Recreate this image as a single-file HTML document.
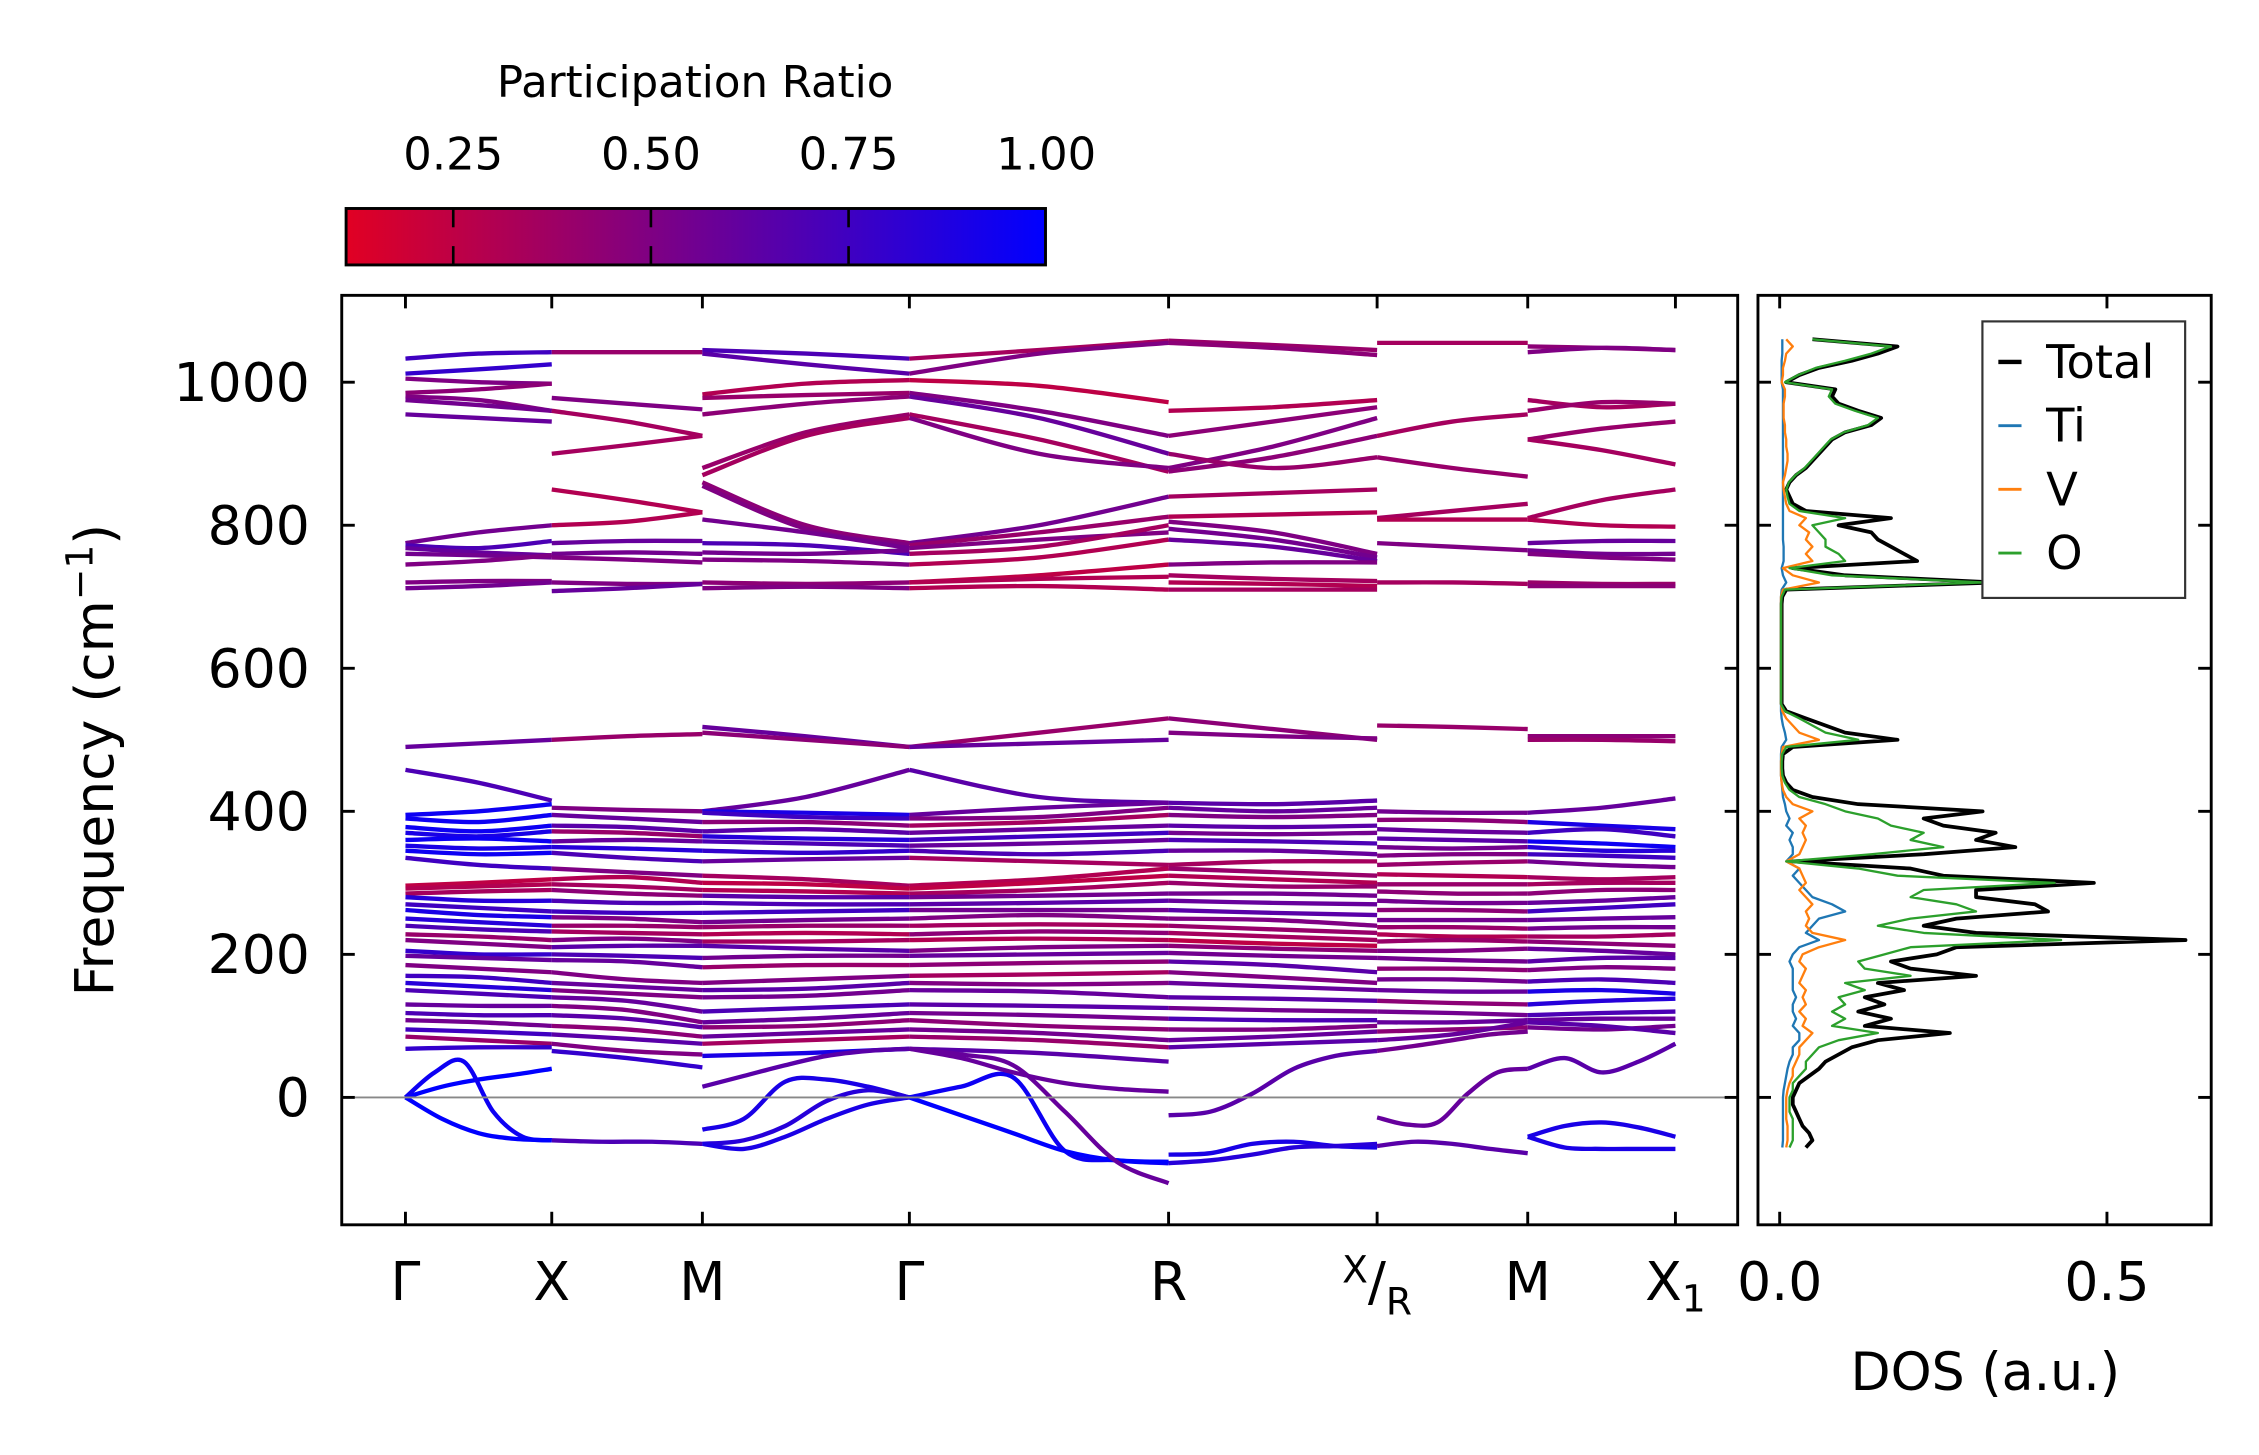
<!DOCTYPE html>
<html><head><meta charset="utf-8"><style>
html,body{margin:0;padding:0;background:#fff;}
svg{display:block;font-family:"DejaVu Sans","Liberation Sans",sans-serif;}
</style></head><body>
<svg id="fig" width="2259" height="1455" viewBox="0 0 1560 1005" preserveAspectRatio="none" xmlns="http://www.w3.org/2000/svg">
<defs>
<linearGradient id="cmap" x1="0" x2="1" y1="0" y2="0">
<stop offset="0" stop-color="rgb(225,0,35)"/><stop offset="1" stop-color="rgb(0,0,255)"/>
</linearGradient>
<clipPath id="mainclip"><rect x="236" y="204" width="964" height="642"/></clipPath>
<clipPath id="dosclip"><rect x="1214" y="204" width="313" height="642"/></clipPath>
</defs>
<g>
<text x="480" y="67" font-size="30" text-anchor="middle">Participation Ratio</text>
<rect x="239" y="144" width="483" height="39" fill="url(#cmap)" stroke="#000" stroke-width="2"/>
<g id="cbticks"></g>
</g>
<g id="main">
<g id="bands" clip-path="url(#mainclip)"></g>
<line x1="236" x2="1200" y1="758" y2="758" stroke="#888" stroke-width="1.3"/>
<rect x="236" y="204" width="964" height="642" fill="none" stroke="#000" stroke-width="2"/>
<g id="mainticks"></g>
<text transform="translate(78,525) rotate(-90)" font-size="37" text-anchor="middle">Frequency (cm<tspan dy="-14" font-size="26">−1</tspan><tspan dy="14">)</tspan></text>
</g>
<g id="dos">
<g id="doslines" clip-path="url(#dosclip)"></g>
<rect x="1214" y="204" width="313" height="642" fill="none" stroke="#000" stroke-width="2"/>
<g id="dosticks"></g>
<text x="1371" y="960" font-size="36" text-anchor="middle">DOS (a.u.)</text>
<g>
<rect x="1369" y="222" width="140" height="191" fill="#fff" stroke="#333" stroke-width="1.5"/>
<g id="legend"></g>
</g>
</g>
</svg>
<script>
// ---------- data ----------
const kLabels = ["Γ","X","M","Γ","R","X/R","M","X1"];
const kDist = [0, 0.1152, 0.2338, 0.3968, 0.6009, 0.7651, 0.8837, 1.0];
const freqTicks = [0, 200, 400, 600, 800, 1000];
const cbTicks = [0.25, 0.50, 0.75, 1.00];
const dosTicks = [0.0, 0.5];

const bandsGX = [
[1033,1040,1042,0.75],[1012,1018,1025,0.8],[1005,1000,998,0.5],[985,990,998,0.45],[980,975,960,0.5],[975,968,960,0.55],[955,950,945,0.6],
[775,790,800,0.55],[772,768,778,0.7],[768,762,758,0.6],[760,758,755,0.55],[745,750,758,0.5],[720,722,722,0.5],[712,715,720,0.55],
[490,495,500,0.6],[458,440,415,0.7],
[395,400,410,0.95],[390,385,395,0.95],[378,372,380,0.95],[370,365,372,0.9],[360,362,358,0.95],[352,348,350,0.9],[345,340,342,0.95],[335,325,320,0.75],[296,300,305,0.25],[292,295,298,0.3],[285,288,290,0.35],[280,275,275,0.85],[270,265,260,0.75],[262,255,252,0.9],[250,245,240,0.85],[240,235,232,0.7],[228,225,220,0.4],[220,215,210,0.5],[205,200,200,0.8],[198,195,192,0.6],[185,180,175,0.5],[170,168,160,0.75],[160,155,150,0.85],[150,145,140,0.7],[130,128,128,0.6],[118,115,115,0.7],[108,105,100,0.55],[95,92,88,0.75],[85,80,75,0.4],[68,70,70,0.8]
];
const lowGX = [[0,15,25,32,40,1.0],[0,35,50,-20,-55,-60,0.95],[0,-30,-50,-58,-60,1.0]];
const bandsXM = [
[1042,1042,1042,0.4],[978,970,962,0.5],[960,945,925,0.35],[900,912,925,0.35],[850,835,818,0.3],[800,805,818,0.3],[775,778,778,0.6],[760,762,760,0.55],[755,752,748,0.5],[720,718,718,0.5],[708,712,718,0.6],
[500,505,508,0.4],
[405,402,400,0.5],[395,390,385,0.6],[380,378,372,0.65],[372,370,365,0.4],[358,360,358,0.6],[350,348,345,0.85],[342,335,330,0.7],[320,315,310,0.5],[305,308,300,0.3],[298,295,290,0.35],[290,285,282,0.45],[275,272,272,0.7],[260,258,258,0.75],[252,250,245,0.5],[240,240,238,0.4],[232,230,228,0.35],[220,222,218,0.5],[210,212,212,0.65],[200,198,195,0.7],[192,190,182,0.6],[175,165,160,0.5],[160,155,150,0.6],[150,145,140,0.5],[140,135,120,0.6],[128,122,105,0.5],[115,110,98,0.65],[100,95,85,0.45],[88,82,75,0.65],[75,65,60,0.5],[65,55,42,0.8]
];
const lowXM = [[-60,-62,-62,-65,0.7]];
const bandsMG = [
[1045,1040,1033,0.7],[1040,1025,1012,0.65],[983,998,1003,0.3],[978,982,985,0.4],[955,970,980,0.45],[880,930,955,0.4],[870,925,950,0.35],[860,800,775,0.45],[855,795,772,0.5],[808,790,768,0.55],[775,772,760,0.7],[762,760,765,0.55],[752,750,745,0.5],[720,718,720,0.45],[712,714,712,0.5],
[518,505,490,0.6],[510,500,490,0.45],[400,420,458,0.6],
[400,398,395,0.9],[398,392,390,0.75],[385,385,380,0.45],[372,375,370,0.65],[365,362,360,0.85],[358,355,352,0.7],[345,342,345,0.8],[330,333,335,0.6],[310,305,296,0.35],[300,298,292,0.25],[290,288,285,0.3],[282,280,280,0.65],[272,270,270,0.7],[258,260,262,0.75],[245,248,250,0.55],[238,240,240,0.4],[228,230,228,0.3],[218,218,220,0.35],[212,208,205,0.65],[195,198,198,0.55],[182,185,185,0.4],[160,165,170,0.5],[150,152,160,0.65],[140,142,150,0.55],[120,125,130,0.7],[105,110,118,0.6],[98,100,108,0.45],[85,90,95,0.6],[75,80,85,0.35],[58,62,68,0.9]
];
const lowMG = [[-45,-30,22,25,15,0,0.9],[-65,-60,-40,-5,10,0,0.85],[-65,-72,-55,-30,-10,0,0.9],[15,30,45,58,65,68,0.65]];
const bandsGR = [
[1033,1045,1058,0.35],[1012,1040,1055,0.5],[1003,995,972,0.25],[985,960,925,0.5],[980,950,900,0.6],[955,920,875,0.35],[950,900,880,0.5],[775,800,840,0.55],[772,790,812,0.4],[768,780,790,0.5],[760,770,800,0.35],[745,755,780,0.3],[720,730,745,0.25],[712,715,710,0.3],[720,725,728,0.3],
[490,510,530,0.4],[490,495,500,0.6],[458,420,412,0.65],
[395,405,412,0.6],[390,392,405,0.5],[380,385,395,0.35],[370,375,380,0.6],[360,365,370,0.75],[352,355,360,0.6],[345,340,345,0.7],[335,330,325,0.35],[296,305,320,0.3],[292,300,310,0.25],[285,290,300,0.35],[280,282,285,0.55],[270,272,275,0.65],[262,262,262,0.55],[250,255,250,0.5],[240,242,240,0.35],[228,232,230,0.45],[220,222,220,0.3],[205,210,212,0.5],[198,200,202,0.6],[185,188,190,0.45],[170,172,175,0.35],[160,158,160,0.5],[150,148,140,0.6],[130,128,125,0.65],[118,115,110,0.55],[108,100,95,0.45],[95,90,80,0.55],[85,80,70,0.4],[68,62,50,0.65]
];
const lowGR = [[0,15,28,-75,-88,-92,0.95],[0,-25,-50,-75,-88,-90,1.0],[68,60,45,-20,-90,-120,0.6],[68,55,35,20,12,8,0.6]];
const bandsRX = [
[1058,1052,1045,0.4],[1055,1048,1038,0.45],[960,965,975,0.3],[925,945,965,0.45],[880,910,950,0.5],[875,895,925,0.45],[900,880,895,0.4],
[840,845,850,0.35],[812,815,818,0.3],[805,790,760,0.5],[795,780,755,0.55],[780,770,750,0.6],[745,748,748,0.5],[730,725,722,0.35],[720,718,715,0.3],[710,710,710,0.35],
[530,515,500,0.45],[510,505,502,0.5],
[412,410,415,0.65],[405,400,405,0.6],[395,392,395,0.5],[380,378,380,0.65],[370,368,370,0.55],[360,358,355,0.7],[345,345,340,0.6],[325,330,330,0.35],[320,315,310,0.4],[310,305,300,0.3],[300,295,295,0.4],[285,285,282,0.55],[275,272,270,0.6],[262,258,255,0.65],[250,248,240,0.5],[240,235,230,0.4],[230,225,220,0.35],[220,215,212,0.25],[212,208,205,0.45],[202,198,195,0.55],[190,185,175,0.65],[175,168,160,0.5],[160,155,150,0.6],[140,138,135,0.65],[125,122,120,0.55],[110,108,108,0.7],[95,95,100,0.5],[80,85,92,0.6],[70,75,80,0.65]
];
const lowRX = [[-25,-20,5,40,58,65,0.65],[-80,-78,-65,-62,-68,-70,0.9],[-92,-88,-80,-70,-68,-65,0.85]];
const bandsRM = [
[1055,1055,1055,0.35],[925,945,955,0.35],[895,880,868,0.4],[810,820,830,0.35],[808,808,808,0.3],[775,770,765,0.5],[720,720,718,0.35],
[520,518,515,0.4],
[400,398,398,0.55],[388,388,385,0.45],[375,372,370,0.6],[362,360,358,0.65],[350,348,350,0.55],[338,340,340,0.5],[325,328,330,0.4],[312,310,308,0.3],[298,298,298,0.4],[288,285,285,0.45],[275,272,272,0.55],[262,262,260,0.45],[248,248,248,0.55],[238,238,236,0.4],[228,225,225,0.3],[218,220,218,0.4],[205,205,208,0.5],[195,192,190,0.55],[180,180,178,0.45],[165,165,162,0.55],[150,148,148,0.6],[135,132,130,0.45],[120,118,115,0.55],[105,105,108,0.6],[92,95,98,0.45],[80,88,105,0.6]
];
const lowRM = [[-28,-38,-35,5,35,40,0.6],[-68,-62,-65,-72,-78,0.65],[65,72,80,88,92,0.55]];
const bandsMX1 = [
[1050,1048,1045,0.45],[1042,1048,1045,0.5],[975,965,970,0.35],[960,972,970,0.4],[920,935,945,0.4],[920,905,885,0.35],[810,835,850,0.35],[808,800,798,0.3],[775,778,778,0.6],[765,760,760,0.55],[760,755,752,0.5],[720,718,718,0.4],[715,715,715,0.45],
[505,505,505,0.45],[500,500,498,0.4],
[398,405,418,0.6],[385,380,375,0.9],[370,375,365,0.75],[358,355,350,0.95],[350,345,345,0.85],[340,338,335,0.75],[330,325,322,0.55],[308,305,308,0.35],[298,300,300,0.35],[285,290,290,0.45],[272,275,280,0.6],[260,265,270,0.75],[248,250,252,0.6],[236,238,238,0.55],[225,225,228,0.35],[218,215,212,0.45],[208,205,200,0.6],[190,195,195,0.65],[178,182,180,0.5],[162,165,160,0.7],[148,150,145,0.9],[130,135,138,0.85],[115,118,120,0.7],[108,110,110,0.6],[98,95,100,0.55],[105,100,90,0.65]
];
const lowMX1 = [[40,55,35,50,75,0.65],[-55,-40,-35,-42,-55,0.9],[-55,-70,-72,-72,-72,0.9]];

const dosStart = -70, dosStep = 10;
const dosTotal = [0.04,0.05,0.045,0.035,0.03,0.025,0.02,
0.02,0.025,0.03,0.045,0.06,0.07,0.09,0.11,0.15,0.26,
0.13,0.17,0.12,0.16,0.13,0.19,0.15,0.30,0.20,0.17,
0.24,0.27,0.62,0.30,0.22,0.27,0.41,0.39,0.30,0.30,
0.48,0.25,0.20,0.02,0.22,0.36,0.30,0.33,0.25,0.22,
0.31,0.12,0.05,0.02,0.01,0.005,0.004,0.004,0.005,0.02,
0.18,0.10,0.07,0.04,0.01,0.003,0.003,0.003,0.003,0.003,
0.003,0.003,0.003,0.003,0.003,0.003,0.003,0.003,0.003,0.003,
0.004,0.01,0.33,0.10,0.02,0.21,0.19,0.17,0.15,0.14,
0.09,0.17,0.04,0.02,0.015,0.01,0.015,0.025,0.04,0.05,
0.06,0.07,0.08,0.10,0.14,0.155,0.12,0.09,0.08,0.085,
0.01,0.03,0.06,0.11,0.15,0.18,0.05];
const dosO = [0.015,0.02,0.02,0.02,0.02,0.015,0.015,
0.015,0.02,0.02,0.03,0.04,0.04,0.05,0.06,0.09,0.15,
0.08,0.10,0.08,0.10,0.09,0.13,0.10,0.20,0.13,0.12,
0.16,0.20,0.43,0.22,0.15,0.20,0.30,0.27,0.20,0.22,
0.42,0.18,0.12,0.01,0.14,0.25,0.20,0.22,0.17,0.15,
0.10,0.07,0.03,0.015,0.008,0.004,0.003,0.003,0.004,0.01,
0.12,0.07,0.05,0.03,0.008,0.002,0.002,0.002,0.002,0.002,
0.002,0.002,0.002,0.002,0.002,0.002,0.002,0.002,0.002,0.002,
0.003,0.008,0.31,0.08,0.015,0.10,0.09,0.07,0.07,0.06,
0.05,0.10,0.03,0.015,0.012,0.01,0.014,0.024,0.038,0.048,
0.058,0.068,0.078,0.098,0.135,0.15,0.115,0.085,0.075,0.08,
0.008,0.028,0.055,0.10,0.14,0.17,0.05];
const dosV = [0.01,0.012,0.012,0.012,0.01,0.01,0.01,
0.01,0.012,0.015,0.02,0.02,0.025,0.03,0.03,0.04,0.05,
0.035,0.04,0.03,0.04,0.035,0.04,0.03,0.035,0.04,0.03,
0.035,0.06,0.10,0.05,0.04,0.045,0.04,0.05,0.04,0.03,
0.04,0.035,0.03,0.01,0.03,0.035,0.04,0.035,0.04,0.03,
0.05,0.02,0.01,0.005,0.003,0.002,0.002,0.002,0.003,0.005,
0.06,0.03,0.02,0.01,0.004,0.002,0.002,0.002,0.002,0.002,
0.002,0.002,0.002,0.002,0.002,0.002,0.002,0.002,0.002,0.002,
0.002,0.005,0.06,0.02,0.005,0.05,0.04,0.05,0.04,0.045,
0.03,0.04,0.015,0.01,0.008,0.006,0.005,0.008,0.01,0.012,
0.012,0.01,0.01,0.008,0.008,0.006,0.006,0.006,0.008,0.008,
0.003,0.005,0.005,0.008,0.01,0.02,0.01];
const dosTi = [0.004,0.005,0.005,0.005,0.005,0.005,0.005,
0.005,0.006,0.008,0.01,0.012,0.015,0.02,0.02,0.03,0.03,
0.02,0.025,0.02,0.02,0.025,0.02,0.02,0.02,0.02,0.015,
0.02,0.03,0.06,0.04,0.05,0.06,0.10,0.08,0.05,0.04,
0.03,0.02,0.03,0.01,0.02,0.02,0.015,0.02,0.01,0.015,
0.01,0.008,0.005,0.004,0.003,0.002,0.002,0.002,0.002,0.003,
0.01,0.008,0.005,0.003,0.002,0.002,0.002,0.002,0.002,0.002,
0.002,0.002,0.002,0.002,0.002,0.002,0.002,0.002,0.002,0.002,
0.002,0.003,0.01,0.005,0.003,0.006,0.006,0.006,0.005,0.005,
0.005,0.005,0.005,0.005,0.005,0.005,0.005,0.005,0.005,0.005,
0.005,0.005,0.005,0.005,0.005,0.005,0.005,0.005,0.005,0.005,
0.003,0.003,0.003,0.003,0.004,0.004,0.004];
const dosSeriesNames = ["Total","Ti","V","O"];
const dosColors = ["#000000","#1f77b4","#ff7f0e","#2ca02c"];

// ---------- axes ----------
const NS = "http://www.w3.org/2000/svg";
const xK = d => 280 + 877 * d;
const yF = f => 758 - 0.494 * f;
const xD = v => 1229 + 452 * v;
const xCb = p => 313 + (p - 0.25) * 546;
function prColor(p){ const t = Math.max(0, Math.min(1, (p - 0.114) / 0.886)); return `rgb(${Math.round(225*(1-t))},0,${Math.round(35+220*t)})`; }
function mk(tag, attrs, parent){ const e = document.createElementNS(NS, tag); for (const k in attrs) e.setAttribute(k, attrs[k]); parent.appendChild(e); return e; }
function smoothPath(pts){
  let d = `M${pts[0][0].toFixed(2)},${pts[0][1].toFixed(2)}`;
  for (let i = 0; i < pts.length - 1; i++){
    const p0 = pts[Math.max(0,i-1)], p1 = pts[i], p2 = pts[i+1], p3 = pts[Math.min(pts.length-1,i+2)];
    const c1 = [p1[0]+(p2[0]-p0[0])/6, p1[1]+(p2[1]-p0[1])/6];
    const c2 = [p2[0]-(p3[0]-p1[0])/6, p2[1]-(p3[1]-p1[1])/6];
    d += ` C${c1[0].toFixed(2)},${c1[1].toFixed(2)} ${c2[0].toFixed(2)},${c2[1].toFixed(2)} ${p2[0].toFixed(2)},${p2[1].toFixed(2)}`;
  }
  return d;
}

const segments = [
  [0,1,bandsGX,lowGX],[1,2,bandsXM,lowXM],[2,3,bandsMG,lowMG],
  [3,4,bandsGR,lowGR],[4,5,bandsRX,lowRX],[5,6,bandsRM,lowRM],[6,7,bandsMX1,lowMX1]
];
const bandsG = document.getElementById("bands");
segments.forEach(([a,b,bands,low]) => {
  bands.concat(low).forEach(band => {
    const vals = band.slice(0, -1), pr = band[band.length-1];
    const n = vals.length;
    const pts = vals.map((v,i) => [xK(kDist[a] + (kDist[b]-kDist[a]) * i/(n-1)), yF(v)]);
    const p = mk("path", {d: smoothPath(pts), fill:"none", stroke: prColor(pr), "stroke-width": 3, "stroke-linecap":"butt"}, bandsG);
    
    
  });
});

const mt = document.getElementById("mainticks");
freqTicks.forEach(f => {
  const y = yF(f);
  mk("line",{x1:236,x2:245,y1:y,y2:y,stroke:"#000","stroke-width":2},mt);
  mk("line",{x1:1191,x2:1200,y1:y,y2:y,stroke:"#000","stroke-width":2},mt);
  mk("line",{x1:1214,x2:1223,y1:y,y2:y,stroke:"#000","stroke-width":2},mt);
  mk("line",{x1:1518,x2:1527,y1:y,y2:y,stroke:"#000","stroke-width":2},mt);
  const t = mk("text",{x:214,y:y+13,"font-size":37,"text-anchor":"end"},mt);
  t.textContent = f;
  
  
});
kDist.forEach((d,i) => {
  const x = xK(d);
  mk("line",{x1:x,x2:x,y1:204,y2:213,stroke:"#000","stroke-width":2},mt);
  mk("line",{x1:x,x2:x,y1:837,y2:846,stroke:"#000","stroke-width":2},mt);
  const t = mk("text",{x:x,y:898,"font-size":37,"text-anchor":"middle"},mt);
  
  
  const lab = kLabels[i];
  if (lab === "X/R"){
    t.innerHTML = '<tspan font-size="26" dy="-12">X</tspan><tspan dy="12">/</tspan><tspan font-size="26" dy="10">R</tspan>';
  } else if (lab === "X1"){
    t.innerHTML = 'X<tspan font-size="26" dy="8">1</tspan>';
  } else t.textContent = lab;
});

const cbt = document.getElementById("cbticks");
cbTicks.forEach(p => {
  const x = xCb(p);
  if (p < 0.99){
    mk("line",{x1:x,x2:x,y1:144,y2:157,stroke:"#000","stroke-width":1.8},cbt);
    mk("line",{x1:x,x2:x,y1:170,y2:183,stroke:"#000","stroke-width":1.8},cbt);
  }
  const t = mk("text",{x:x,y:117,"font-size":31,"text-anchor":"middle"},cbt);
  t.textContent = p.toFixed(2);
  
  
});

const dl = document.getElementById("doslines");
const dosData = [dosTotal, dosTi, dosV, dosO];
[0,1,2,3].forEach(si => {
  const arr = dosData[si];
  const pts = arr.map((v,i) => `${xD(v).toFixed(2)},${yF(dosStart + dosStep*i).toFixed(2)}`).join(" ");
  const pl = mk("polyline",{points:pts,fill:"none",stroke:dosColors[si],"stroke-width": si===0?2.6:1.6,"stroke-linejoin":"round"},dl);
  
  
});
const dt = document.getElementById("dosticks");
dosTicks.forEach(v => {
  const x = xD(v);
  mk("line",{x1:x,x2:x,y1:204,y2:213,stroke:"#000","stroke-width":2},dt);
  mk("line",{x1:x,x2:x,y1:837,y2:846,stroke:"#000","stroke-width":2},dt);
  const t = mk("text",{x:x,y:898,"font-size":37,"text-anchor":"middle"},dt);
  t.textContent = v.toFixed(1);
  
  
});
const lg = document.getElementById("legend");
dosSeriesNames.forEach((n,i) => {
  const y = 250 + 44*i;
  mk("line",{x1:1380,x2:1396,y1:y,y2:y,stroke:dosColors[i],"stroke-width":i===0?3:2},lg);
  const t = mk("text",{x:1413,y:y+11,"font-size":32},lg);
  t.textContent = n;
  
  
});
</script>
</body></html>
